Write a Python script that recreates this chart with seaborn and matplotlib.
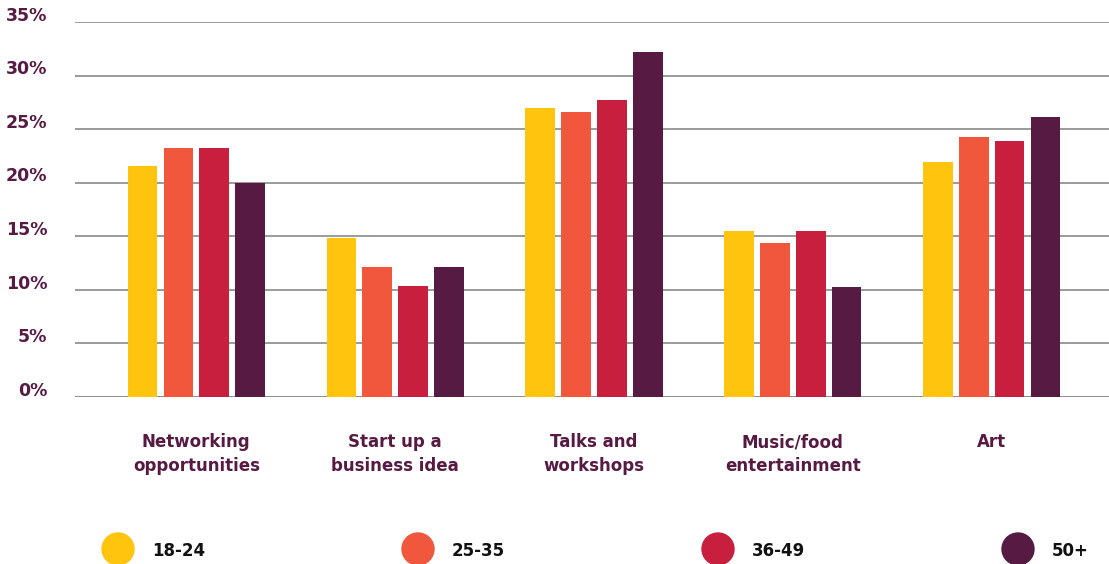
import matplotlib
matplotlib.use("Agg")
import matplotlib.pyplot as plt
import matplotlib.transforms as mtransforms
from matplotlib.patches import Ellipse
import seaborn as sns
import pandas as pd

categories = ["Networking\nopportunities", "Start up a\nbusiness idea", "Talks and\nworkshops",
              "Music/food\nentertainment", "Art"]
groups = ["18-24", "25-35", "36-49", "50+"]
v_18_24 = [21.6, 14.8, 27.0, 15.5, 21.9]
v_25_35 = [23.2, 12.1, 26.6, 14.4, 24.3]
v_36_49 = [23.2, 10.4, 27.7, 15.5, 23.9]
v_50 = [20.0, 12.1, 32.2, 10.3, 26.1]
yticks = [0, 5, 10, 15, 20, 25, 30, 35]
colors = ["#FFC40E", "#F0573C", "#C71F3D", "#561A43"]

series = [v_18_24, v_25_35, v_36_49, v_50]
rows = []
for g, vals in zip(groups, series):
    for c, v in zip(categories, vals):
        rows.append({"category": c, "group": g, "value": v})
df = pd.DataFrame(rows)

sns.set_theme(style="white")
plt.rcParams["font.family"] = ["DejaVu Sans"]

W, H = 1109, 564
fig = plt.figure(figsize=(W / 100, H / 100), dpi=100)
ax = fig.add_axes([75 / W, 1 - 397 / H, 1 - 75 / W, 375 / H])

sns.barplot(data=df, x="category", y="value", hue="group", order=categories,
            hue_order=groups, palette=colors, width=0.72, gap=0.17,
            saturation=1, legend=False, linewidth=0, ax=ax)

ax.set_ylim(0, 35)
ax.set_xlim(-0.61, 4.59)
ax.set_yticks(yticks)
ax.set_yticklabels([f"{t}%" for t in yticks])
ax.yaxis.grid(True, color="#8a8a8a", linewidth=1.2)
ax.set_axisbelow(True)
for s in ax.spines.values():
    s.set_visible(False)
ax.axhline(0, color="#b0b0b0", linewidth=2.2, zorder=0)
ax.set_xlabel("")
ax.set_ylabel("")
ax.tick_params(axis="y", length=0, pad=20, labelsize=12.5, labelcolor="#561A43")
ax.tick_params(axis="x", length=0, pad=26, labelsize=12, labelcolor="#561A43")
offset = mtransforms.ScaledTranslation(0, 6 / 72, fig.dpi_scale_trans)
for lbl in ax.get_yticklabels():
    lbl.set_fontweight("bold")
    lbl.set_transform(lbl.get_transform() + offset)
for lbl in ax.get_xticklabels():
    lbl.set_fontweight("bold")
    lbl.set_linespacing(1.45)

# legend
for i, (g, col) in enumerate(zip(groups, colors)):
    cx = 118 + 300 * i
    fig.add_artist(Ellipse((cx / W, 1 - 549 / H), 32 / W, 32 / H,
                           transform=fig.transFigure, color=col))
    fig.text((cx + 34) / W, 1 - 551 / H, g, ha="left", va="center",
             fontsize=12, fontweight="bold", color="#111111")

fig.savefig("out.png", dpi=100)
